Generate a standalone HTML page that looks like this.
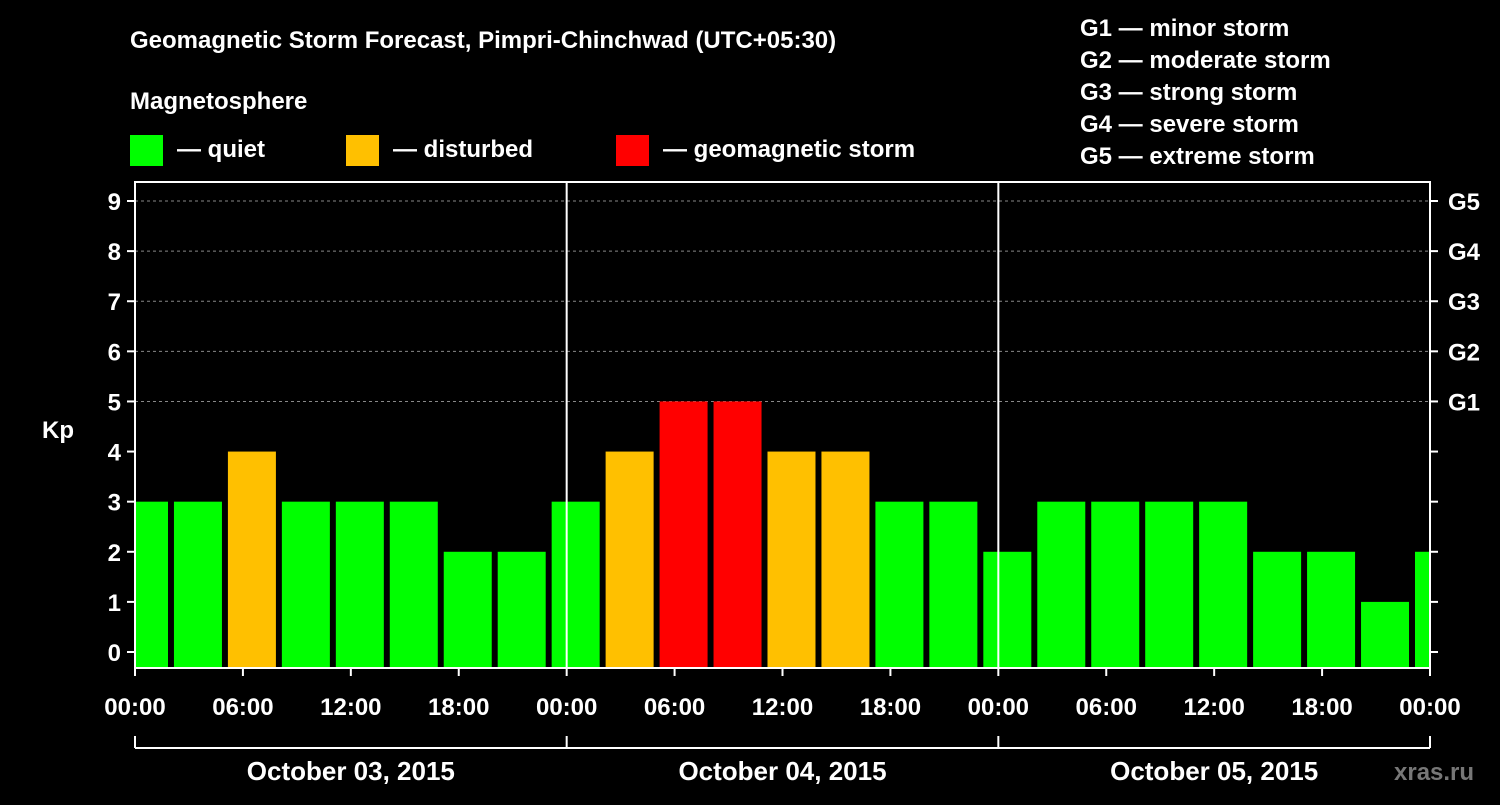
<!DOCTYPE html>
<html><head><meta charset="utf-8"><style>
body{margin:0;background:#000;width:1500px;height:800px;overflow:hidden}
svg text{font-family:"Liberation Sans",sans-serif;font-weight:bold;fill:#fff}
</style></head><body>
<svg id="c" width="1500" height="800">
<text x="130" y="48" font-size="24">Geomagnetic Storm Forecast, Pimpri-Chinchwad (UTC+05:30)</text>
<text x="130" y="109" font-size="24">Magnetosphere</text>
<g><rect x="130" y="135" width="33" height="31" fill="#00ff00"/><text x="177" y="157" font-size="24">— quiet</text></g>
<g><rect x="346" y="135" width="33" height="31" fill="#ffc000"/><text x="393" y="157" font-size="24">— disturbed</text></g>
<g><rect x="616" y="135" width="33" height="31" fill="#ff0000"/><text x="663" y="157" font-size="24">— geomagnetic storm</text></g>
<g font-size="24">
<text x="1080" y="36">G1 — minor storm</text><text x="1080" y="68">G2 — moderate storm</text><text x="1080" y="100">G3 — strong storm</text><text x="1080" y="132">G4 — severe storm</text><text x="1080" y="164">G5 — extreme storm</text></g>
<text x="42" y="438" font-size="24">Kp</text>
<text x="1394" y="780" font-size="24" fill="#666" style="fill:#777">xras.ru</text>
<g id="plot"></g>
</svg>
<script>
const kpValues=[3,3,4,3,3,3,2,2,3,4,5,5,4,4,3,3,2,3,3,3,3,2,2,1,2];
const yTicks=[0,1,2,3,4,5,6,7,8,9];
const gLabels=["G1","G2","G3","G4","G5"];
const gLevels=[5,6,7,8,9];
const xTickLabels=["00:00","06:00","12:00","18:00","00:00","06:00","12:00","18:00","00:00","06:00","12:00","18:00","00:00"];
const dayLabels=["October 03, 2015","October 04, 2015","October 05, 2015"];
const L=135,R=1430,T=182,B=668;
const xh=h=>L+h*(R-L)/72;
const y=v=>652-v*50.11;
const NS="http://www.w3.org/2000/svg";
const g=document.getElementById('plot');
function mk(t,a,txt){const e=document.createElementNS(NS,t);for(const k in a)e.setAttribute(k,a[k]);if(txt!=null)e.textContent=txt;g.appendChild(e);return e;}
gLevels.forEach(v=>{const e=mk('line',{x1:L,x2:R,y1:y(v),y2:y(v),stroke:'#888','stroke-dasharray':'3,3','stroke-width':1});

});
kpValues.forEach((v,i)=>{const c=xh(0.5+3*i);let x0=Math.max(L,c-24),x1=Math.min(R,c+24);
const col=v>=5?'#ff0000':v>=4?'#ffc000':'#00ff00';
const e=mk('rect',{x:x0,y:y(v),width:x1-x0,height:B-y(v),fill:col});

});
[24,48].forEach(h=>{const e=mk('line',{x1:xh(h),x2:xh(h),y1:T,y2:B,stroke:'#fff','stroke-width':2});

});
const fr=mk('rect',{x:L,y:T,width:R-L,height:B-T,fill:'none',stroke:'#fff','stroke-width':2});


yTicks.forEach(v=>{mk('line',{x1:L-8,x2:L,y1:y(v),y2:y(v),stroke:'#fff','stroke-width':2});mk('line',{x1:R,x2:R+8,y1:y(v),y2:y(v),stroke:'#fff','stroke-width':2});
const t=mk('text',{x:L-14,y:y(v)+9,'font-size':24,'text-anchor':'end'},v);

});
gLabels.forEach((s,i)=>{const t=mk('text',{x:R+18,y:y(gLevels[i])+9,'font-size':24},s);

});
xTickLabels.forEach((s,i)=>{const x=xh(i*6);mk('line',{x1:x,x2:x,y1:B,y2:B+8,stroke:'#fff','stroke-width':2});
const t=mk('text',{x:x,y:715,'font-size':24,'text-anchor':'middle'},s);

});
mk('line',{x1:L,x2:R,y1:748,y2:748,stroke:'#fff','stroke-width':2});
[0,24,48,72].forEach(h=>mk('line',{x1:xh(h),x2:xh(h),y1:736,y2:748,stroke:'#fff','stroke-width':2}));
dayLabels.forEach((s,i)=>{const t=mk('text',{x:xh(12+24*i),y:780,'font-size':26,'text-anchor':'middle'},s);

});
</script>
</body></html>
